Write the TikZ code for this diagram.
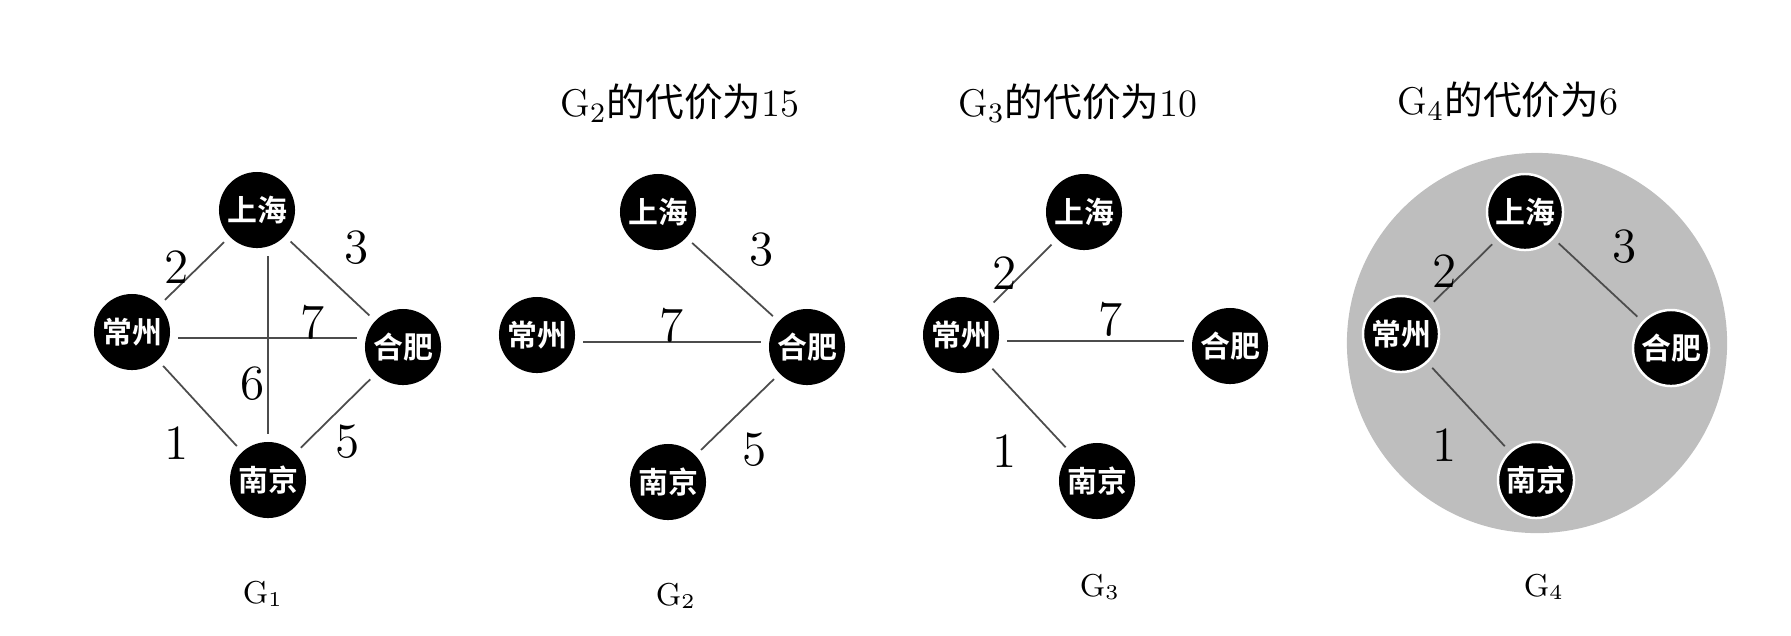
\documentclass[tikz,border=0pt]{standalone}
\usepackage{fontspec}
\newfontfamily\cjk{Noto Sans CJK SC}
\newfontfamily\cjkbold{Noto Sans CJK SC Bold}
\definecolor{discgray}{RGB}{190,190,190}

\begin{document}
\begin{tikzpicture}[x=0.01cm,y=-0.01cm,
  city/.style={circle,fill=black,text=white,minimum size=0.76cm,inner sep=0pt,outer sep=0.08cm,font=\cjkbold\fontsize{8.5}{10}\selectfont},
  ringcity/.style={city,draw=white,line width=0.7pt},
  link/.style={black!70,line width=0.5pt},
  wt/.style={font=\fontsize{14}{16}\selectfont},
  gtitle/.style={font=\fontsize{11}{13}\selectfont},
  gname/.style={font=\fontsize{9}{11}\selectfont}]
  \useasboundingbox (0,0) rectangle (1791,635);
  \begin{scope}
    \node[city] (sh1) at (257,210) {上海};
    \node[city] (cz1) at (132,332) {常州};
    \node[city] (hf1) at (403,347) {合肥};
    \node[city] (nj1) at (268,480) {南京};
    \draw[link] (cz1) -- (sh1) (sh1) -- (hf1) (cz1) -- (nj1) (hf1) -- (nj1);
    \draw[link] (sh1.south -| nj1.north) -- (nj1.north);
    \draw[link] ([yshift=-1.7pt]cz1.east) -- ([yshift=-1.7pt]cz1.east -| hf1.west);
    \node[wt] (w1a) at (177,267) {2};
    \node[wt] (w1b) at (357,248) {3};
    \node[wt] (w1c) at (313,322) {7};
    \node[wt] (w1d) at (253,384) {6};
    \node[wt] (w1e) at (177,443) {1};
    \node[wt] (w1f) at (348,442) {5};
    \node[gname] (g1) at (263,594) {G$_1$};
  \end{scope}
  \begin{scope}
    \node[gtitle] (t2) at (680,103) {G$_2${\cjk 的代价为}15};
    \node[city] (sh2) at (658,212) {上海};
    \node[city] (cz2) at (537,335) {常州};
    \node[city] (hf2) at (807,347) {合肥};
    \node[city] (nj2) at (668,482) {南京};
    \draw[link] (sh2) -- (hf2) (hf2) -- (nj2);
    \draw[link] ([yshift=-2pt]cz2.east) -- ([yshift=-2pt]cz2.east -| hf2.west);
    \node[wt] (w2a) at (762,250) {3};
    \node[wt] (w2b) at (672,325) {7};
    \node[wt] (w2c) at (755,450) {5};
    \node[gname] (g2) at (676,596) {G$_2$};
  \end{scope}
  \begin{scope}
    \node[gtitle] (t3) at (1078,103) {G$_3${\cjk 的代价为}10};
    \node[city] (sh3) at (1084,212) {上海};
    \node[city] (cz3) at (961,335) {常州};
    \node[city] (hf3) at (1230,346) {合肥};
    \node[city] (nj3) at (1097,481) {南京};
    \draw[link] (cz3) -- (sh3) (cz3) -- (nj3);
    \draw[link] ([yshift=-1.7pt]cz3.east) -- ([yshift=-1.7pt]cz3.east -| hf3.west);
    \node[wt] (w3a) at (1005,273) {2};
    \node[wt] (w3b) at (1111,319) {7};
    \node[wt] (w3c) at (1005,451) {1};
    \node[gname] (g3) at (1100,587) {G$_3$};
  \end{scope}
  \begin{scope}
    \node[gtitle] (t4) at (1508,101) {G$_4${\cjk 的代价为}6};
    \fill[discgray] (1537,343) circle [radius=1.9cm];
    \node[ringcity] (sh4) at (1525,212) {上海};
    \node[ringcity] (cz4) at (1401,334) {常州};
    \node[ringcity] (hf4) at (1671,348) {合肥};
    \node[ringcity] (nj4) at (1536,480) {南京};
    \draw[link] (cz4) -- (sh4) (sh4) -- (hf4) (cz4) -- (nj4);
    \node[wt] (w4a) at (1445,271) {2};
    \node[wt] (w4b) at (1625,247) {3};
    \node[wt] (w4c) at (1445,445) {1};
    \node[gname] (g4) at (1544,587) {G$_4$};
  \end{scope}
\end{tikzpicture}
\end{document}
